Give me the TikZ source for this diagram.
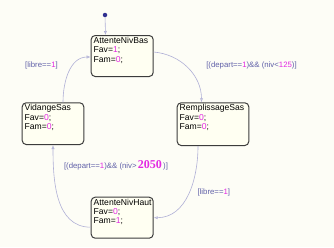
\documentclass[tikz,border=0pt]{standalone}
\usepackage{fontspec}
\setmainfont{Liberation Sans}
\newfontfamily\numserif{Liberation Serif}
\usetikzlibrary{arrows.meta}
\definecolor{bgc}{RGB}{253,253,246}
\definecolor{boxfill}{RGB}{255,255,242}
\definecolor{boxline}{RGB}{60,60,60}
\definecolor{conn}{RGB}{176,176,214}
\definecolor{lbl}{RGB}{96,96,168}
\definecolor{mag}{RGB}{226,40,226}
\definecolor{dotc}{RGB}{48,48,144}
\tikzset{
  statebox/.style={draw=boxline, line width=1pt, fill=boxfill, rounded corners=4pt,
    anchor=north west, inner sep=0pt},
  statetext/.style={anchor=north west, inner sep=0pt, align=left,
    font=\fontsize{8.6}{9.3}\selectfont, text=black},
  trans/.style={draw=conn, line width=0.6pt, -{Latex[open,length=4pt,width=3.2pt]}},
  guard/.style={text=lbl, font=\fontsize{7.8}{9}\selectfont, inner sep=0pt},
}
\newcommand{\mg}[1]{\textcolor{mag}{#1}}
\begin{document}
\begin{tikzpicture}[x=1pt,y=-1pt]
\fill[bgc] (0,0) rectangle (334,247);
\useasboundingbox (0,0) rectangle (334,247);

% states
\node[statebox, minimum width=62pt, minimum height=41pt] (bas) at (90.7,35) {};
\node[statetext] (basT) at (93.5,37) {AttenteNivBas\\Fav=\mg{1};\\Fam=\mg{0};};

\node[statebox, minimum width=71.6pt, minimum height=42.7pt] (remp) at (176.7,102.3) {};
\node[statetext] (rempT) at (179.5,104.3) {RemplissageSas\\Fav=\mg{0};\\Fam=\mg{0};};

\node[statebox, minimum width=61.6pt, minimum height=41.7pt] (vid) at (21.7,102.3) {};
\node[statetext] (vidT) at (24.5,104.3) {VidangeSas\\Fav=\mg{0};\\Fam=\mg{0};};

\node[statebox, minimum width=62pt, minimum height=41pt] (haut) at (90.7,196.7) {};
\node[statetext] (hautT) at (93.5,198.7) {AttenteNivHaut\\Fav=\mg{0};\\Fam=\mg{1};};

% initial
\node[circle, fill=dotc, inner sep=0pt, minimum size=4.5pt] (init) at (105,15) {};
\draw[trans] (init) -- ([xshift=-16.7pt]bas.north);

% transitions
\draw[trans] ([yshift=4pt]bas.east) to[out=-5,in=90] ([xshift=-11.5pt]remp.north);
\draw[trans] ([xshift=-15pt]remp.south) to[out=-90,in=0] (haut.east);
\draw[trans] ([yshift=-9.5pt]haut.west) to[out=180,in=-90] (vid.south);
\draw[trans] ([xshift=10pt]vid.north) to[out=90,in=180] ([yshift=-1pt]bas.west);

% guards
\node[guard] (g1) at (251.5,65.7) {[(depart==\mg{1})\&\& (niv<\mg{125})]};
\node[guard] (g2) at (213.8,192.3) {[libre==\mg{1}]};
\node[guard] (g3) at (116,165.7) {[(depart==\mg{1})\&\& (niv>\,\textcolor{mag}{\numserif\bfseries\fontsize{12}{12}\selectfont 2050}\,)]};
\node[guard] (g4) at (41.5,65.7) {[libre==\mg{1}]};
\end{tikzpicture}
\end{document}
